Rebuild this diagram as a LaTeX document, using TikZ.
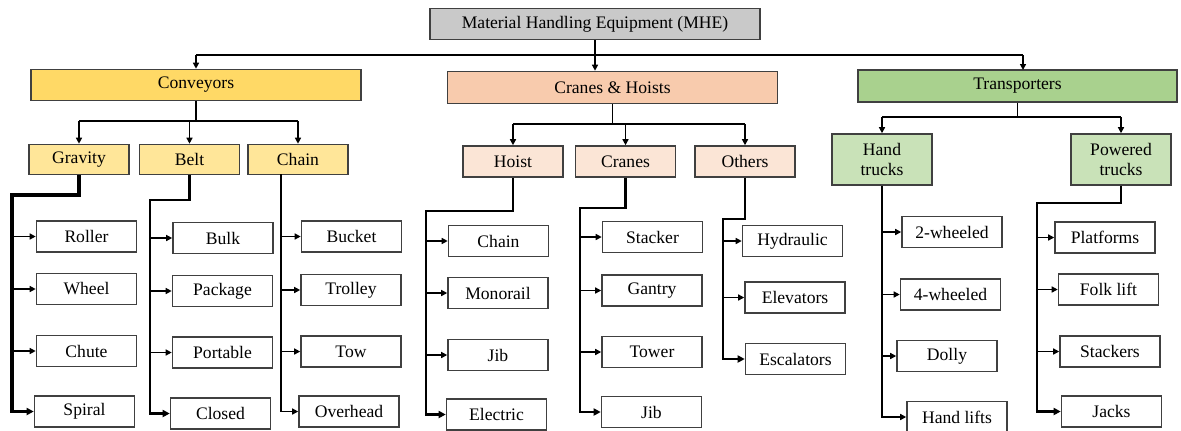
\documentclass[tikz,border=0pt]{standalone}
\usepackage{fontspec}
\setmainfont{Liberation Serif}
\usetikzlibrary{arrows.meta}
\definecolor{mhegray}{HTML}{C9C9C9}
\definecolor{convyellow}{HTML}{FFD966}
\definecolor{cranpeach}{HTML}{F8CBAD}
\definecolor{trangreen}{HTML}{A9D18E}
\definecolor{subyellow}{HTML}{FFE699}
\definecolor{subpeach}{HTML}{FBE5D6}
\definecolor{subgreen}{HTML}{C9E2B8}
\definecolor{edgegray}{HTML}{404040}

\begin{document}
\begin{tikzpicture}[
	x=0.5pt, y=-0.5pt,
	font=\fontsize{8.8}{10}\selectfont,
	box/.style={draw=edgegray, line width=0.8pt, inner sep=1pt},
	cat/.style={box, minimum width=165pt, minimum height=15.5pt},
	sub/.style={box, minimum width=50pt, minimum height=15pt},
	leaf/.style={box, fill=white, minimum width=50pt, minimum height=15.5pt},
	wire/.style={line width=0.8pt},
	link/.style={line width=0.7pt, -{Triangle[length=3pt,width=3pt]}},
	trunk/.style={line width=1.3pt, -{Triangle[length=3.5pt,width=3.5pt]}}]
\useasboundingbox (0,0) rectangle (1181,430);

\node[cat, fill=mhegray] (mhe) at (595,24) {Material Handling Equipment (MHE)};
\node[cat, fill=convyellow] (conv) at (196,85) {Conveyors};
\node[cat, fill=cranpeach, minimum height=16pt] (cran) at (612.5,87.5) {Cranes \& Hoists};
\node[cat, fill=trangreen, minimum width=159.5pt, minimum height=16pt] (tran) at (1017.5,86) {Transporters};

\node[sub, fill=subyellow] (grav) at (79,159.5) {Gravity};
\node[sub, fill=subyellow] (belt) at (189.5,159.5) {Belt};
\node[sub, fill=subyellow] (chn) at (298,159.5) {Chain};
\node[sub, fill=subpeach, minimum height=15.5pt] (hoist) at (513,161.5) {Hoist};
\node[sub, fill=subpeach, minimum height=15.5pt] (crn) at (625.5,161.5) {Cranes};
\node[sub, fill=subpeach, minimum height=15.5pt] (oth) at (745,161.5) {Others};
\node[sub, fill=subgreen, minimum height=25.5pt, align=center] (hand) at (882,159.5) {Hand\\trucks};
\node[sub, fill=subgreen, minimum height=25.5pt, align=center] (pow) at (1121,159.5) {Powered\\trucks};

\node[leaf] (roller) at (86.5,236.5) {Roller};
\node[leaf] (wheel) at (86.5,289) {Wheel};
\node[leaf] (chute) at (86.5,351) {Chute};
\node[leaf] (spiral) at (84.5,411.5) {Spiral};

\node[leaf] (bulk) at (223,238) {Bulk};
\node[leaf] (package) at (222.5,291) {Package};
\node[leaf] (portable) at (222.5,352.5) {Portable};
\node[leaf] (closed) at (220.5,413.5) {Closed};

\node[leaf] (bucket) at (351.5,236.5) {Bucket};
\node[leaf] (trolley) at (351,290) {Trolley};
\node[leaf] (tow) at (351,351.5) {Tow};
\node[leaf] (overhead) at (349,411.5) {Overhead};

\node[leaf] (hchain) at (498.5,241) {Chain};
\node[leaf] (monorail) at (498,293) {Monorail};
\node[leaf] (hjib) at (498,355) {Jib};
\node[leaf] (electric) at (496.5,414.5) {Electric};

\node[leaf] (stacker) at (652.5,237) {Stacker};
\node[leaf] (gantry) at (652,290.5) {Gantry};
\node[leaf] (tower) at (652,352) {Tower};
\node[leaf] (cjib) at (651.5,412) {Jib};

\node[leaf] (hydraulic) at (792.5,241) {Hydraulic};
\node[leaf] (elevators) at (795,297.5) {Elevators};
\node[leaf] (escalators) at (795.5,359) {Escalators};

\node[leaf] (twowh) at (952,232) {2-wheeled};
\node[leaf] (fourwh) at (950.5,294.5) {4-wheeled};
\node[leaf] (dolly) at (947,356) {Dolly};
\node[leaf] (handlifts) at (957,417) {Hand lifts};

\node[leaf] (platforms) at (1105,237.5) {Platforms};
\node[leaf] (folklift) at (1108.5,289.5) {Folk lift};
\node[leaf] (stackers) at (1110,351.5) {Stackers};
\node[leaf] (jacks) at (1111.5,411.5) {Jacks};

\coordinate (bus) at (0,55);
\coordinate (cbus) at (0,121);
\coordinate (hbus) at (0,124);
\coordinate (tbus) at (0,117);

\draw[wire] (mhe.south) -- (mhe.south |- bus);
\draw[wire] (conv.north |- bus) -- (1023,55);
\draw[link] (mhe.south) -- (mhe.south |- cran.north);
\draw[link] (conv.north |- bus) -- (conv.north);
\draw[link] (1023,55) -- (1023,70);

\draw[wire] (conv.south) -- (conv.south |- cbus);
\draw[wire] (grav.north |- cbus) -- (chn.north |- cbus);
\foreach \n in {grav,belt,chn}
	\draw[link] (\n.north |- cbus) -- (\n.north);

\draw[wire] (cran.south) -- (cran.south |- hbus);
\draw[wire] (hoist.north |- hbus) -- (oth.north |- hbus);
\foreach \n in {hoist,crn,oth}
	\draw[link] (\n.north |- hbus) -- (\n.north);

\draw[wire] (tran.south) -- (tran.south |- tbus);
\draw[wire] (hand.north |- tbus) -- (pow.north |- tbus);
\foreach \n in {hand,pow}
	\draw[link] (\n.north |- tbus) -- (\n.north);

\coordinate (gk) at (12,195);
\draw[trunk, line width=1.6pt] (grav.south) |- (gk) |- (spiral.west);
\foreach \n in {roller,wheel,chute}
	\draw[link] (gk |- \n.west) -- (\n.west);

\coordinate (bk) at (150,200);
\draw[trunk] (belt.south) |- (bk) |- (closed.west);
\foreach \n in {bulk,package,portable}
	\draw[link] (bk |- \n.west) -- (\n.west);

\coordinate (ck) at (281,174);
\draw[link] (ck) |- (overhead.west);
\foreach \n in {bucket,trolley,tow}
	\draw[link] (ck |- \n.west) -- (\n.west);

\coordinate (hk) at (426,211);
\draw[trunk] (hoist.south) |- (hk) |- (electric.west);
\foreach \n in {hchain,monorail,hjib}
	\draw[link] (hk |- \n.west) -- (\n.west);

\coordinate (rk) at (580,208);
\draw[trunk] (crn.south) |- (rk) |- (cjib.west);
\foreach \n in {stacker,gantry,tower}
	\draw[link] (rk |- \n.west) -- (\n.west);

\coordinate (ok) at (723,219);
\draw[trunk] (oth.south) |- (ok) |- (escalators.west);
\foreach \n in {hydraulic,elevators}
	\draw[link] (ok |- \n.west) -- (\n.west);

\coordinate (tk) at (882,185);
\draw[link] (hand.south) |- (handlifts.west);
\foreach \n in {twowh,fourwh,dolly}
	\draw[link] (tk |- \n.west) -- (\n.west);

\coordinate (pk) at (1037,203);
\draw[trunk] (pow.south) |- (pk) |- (jacks.west);
\foreach \n in {platforms,folklift,stackers}
	\draw[link] (pk |- \n.west) -- (\n.west);
\end{tikzpicture}
\end{document}
